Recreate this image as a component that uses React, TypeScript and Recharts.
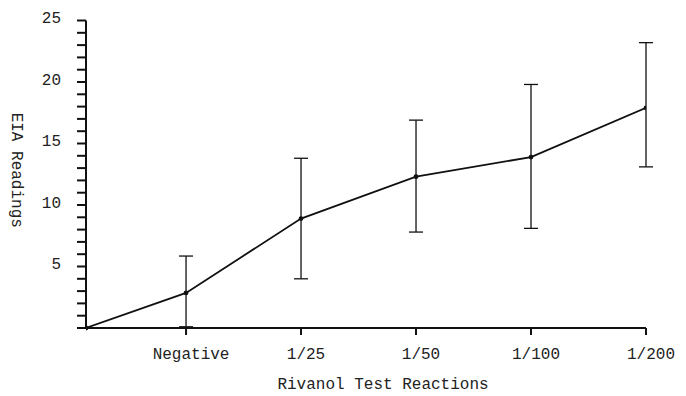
import React from "react";
import { LineChart, Line, XAxis, YAxis, ErrorBar } from "recharts";

const categories = ["Negative", "1/25", "1/50", "1/100", "1/200"];
const means = [2.85, 8.9, 12.3, 13.9, 17.9];
const lows = [0.1, 4.0, 7.8, 8.1, 13.1];
const highs = [5.85, 13.8, 16.9, 19.8, 23.2];
const yTicks = [0, 1, 2, 3, 4, 5, 6, 7, 8, 9, 10, 11, 12, 13, 14, 15, 16, 17, 18, 19, 20, 21, 22, 23, 24, 25];
const yLabelTicks = [5, 10, 15, 20, 25];
const originValue = 0;
const ORIGIN_X = 0.13;

const data = [
  { x: ORIGIN_X, y: originValue },
  ...categories.map((c, i) => ({
    x: i + 1,
    y: means[i],
    err: [means[i] - lows[i], highs[i] - means[i]],
  })),
];

const FONT = "'Liberation Mono', 'DejaVu Sans Mono', monospace";
const tickStyle = { fontFamily: FONT, fontSize: 16, fill: "#222" };

export default function App() {
  return (
    <LineChart
      width={670}
      height={390}
      data={data}
      margin={{ top: 12.5, right: 32, bottom: 10, left: 0 }}
      style={{ fontFamily: FONT }}
    >
      <XAxis
        type="number"
        dataKey="x"
        domain={[ORIGIN_X, 5]}
        ticks={[1, 2, 3, 4, 5]}
        tickFormatter={(v: number) => categories[v - 1] ?? ""}
        tickSize={7}
        tickMargin={13}
        height={60}
        stroke="#111"
        strokeWidth={2}
        tick={{ ...tickStyle, dx: 5 }}
        allowDataOverflow
        label={{
          value: "Rivanol Test Reactions",
          position: "insideBottom",
          offset: -1,
          dx: 17,
          style: { fontFamily: FONT, fontSize: 16, fill: "#222" },
        }}
      />
      <YAxis
        type="number"
        domain={[0, 25]}
        ticks={yTicks}
        interval={0}
        tickFormatter={(v: number) => (yLabelTicks.includes(v) ? String(v) : "")}
        tickSize={9}
        tickMargin={16}
        width={78}
        stroke="#111"
        strokeWidth={2}
        tick={{ ...tickStyle, dy: -3 }}
        label={{
          value: "EIA Readings",
          angle: 90,
          position: "center",
          dx: -29,
          dy: -4,
          style: { fontFamily: FONT, fontSize: 16, fill: "#222", textAnchor: "middle" },
        }}
      />
      <Line
        type="linear"
        dataKey="y"
        stroke="#111"
        strokeWidth={1.8}
        dot={{ r: 1.5, fill: "#111", stroke: "#111" }}
        isAnimationActive={false}
      >
        <ErrorBar dataKey="err" width={7} stroke="#111" strokeWidth={1.3} direction="y" />
      </Line>
    </LineChart>
  );
}
